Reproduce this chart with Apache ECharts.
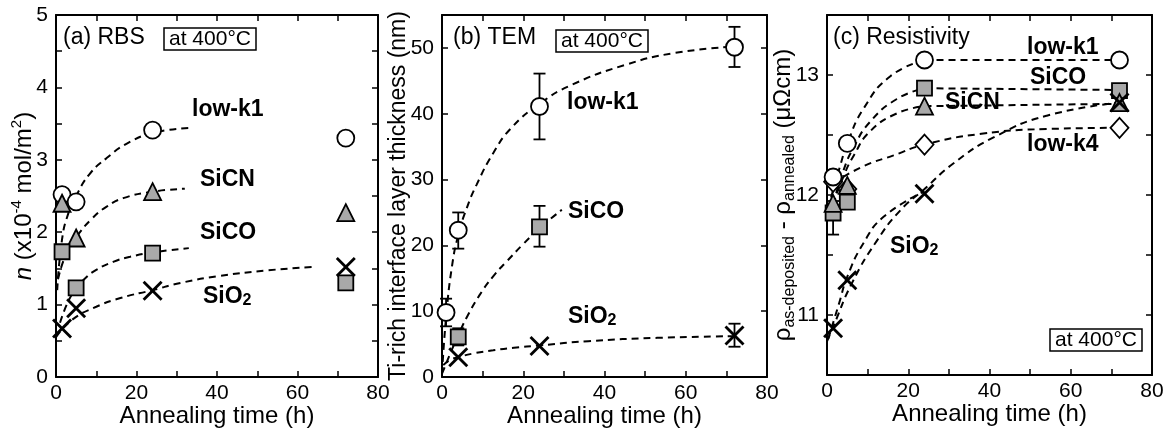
<!DOCTYPE html>
<html>
<head>
<meta charset="utf-8">
<script src="https://cdn.jsdelivr.net/npm/echarts@6/dist/echarts.min.js"></script>
<style>
  html, body { margin: 0; padding: 0; background: #fff; }
  #chart { width: 1167px; height: 434px; }
</style>
</head>
<body>
<div id="chart"></div>
<script>
// ---- (a) RBS ----
const timesA = [1.5, 5, 24, 72];
const rbsLowk1 = [2.52, 2.42, 3.41, 3.30];
const rbsSiCN = [2.40, 1.92, 2.56, 2.27];
const rbsSiCO = [1.73, 1.23, 1.71, 1.30];
const rbsSiO2 = [0.67, 0.95, 1.19, 1.52];
// fitted dashed curves
const fitA_lowk1 = [[0.3, 1.2], [1.5, 1.9], [3, 2.25], [5, 2.5], [8.3, 2.8], [12.5, 3.02], [17.5, 3.22], [24, 3.37], [33, 3.44]];
const fitA_SiCN = [[0.5, 1.35], [2.5, 1.7], [5, 1.93], [9, 2.19], [12.5, 2.35], [16.7, 2.47], [24, 2.56], [32, 2.6]];
const fitA_SiCO = [[1, 0.75], [3, 1.04], [5, 1.22], [7, 1.35], [10, 1.48], [14.2, 1.59], [18.4, 1.66], [24, 1.72], [33, 1.78]];
const fitA_SiO2 = [[0, 0.55], [4, 0.79], [10, 0.97], [16, 1.09], [24, 1.2], [31, 1.3], [40, 1.39], [52, 1.47], [64, 1.52]];

// ---- (b) TEM ----
const timesB = [1, 4, 24, 72];
const temLowk1 = [9.8, 22.3, 41.1, 50.1];
const temLowk1Lo = [7.7, 19.5, 36.1, 47.1];
const temLowk1Hi = [11.9, 25.0, 46.1, 53.2];
const timesB_SiCO = [4, 24];
const temSiCO = [6.1, 22.8];
const temSiCOLo = [4.8, 19.8];
const temSiCOHi = [7.4, 26.0];
const timesB_SiO2 = [4, 24, 72];
const temSiO2 = [3.0, 4.7, 6.3];
const temSiO2Lo = [3.0, 4.7, 4.6];
const temSiO2Hi = [3.0, 4.7, 8.1];
const fitB_lowk1 = [[0, 0.5], [1, 9], [2.5, 17], [4.1, 21.8], [6, 25.5], [8.5, 29.2], [12.6, 34], [17, 37.8], [24, 41.5], [32, 44.4], [45, 47.4], [57, 49.2], [72, 50.2]];
const fitB_SiCO = [[0, 0.5], [2, 3.5], [4.1, 6.5], [6.3, 9.3], [9.2, 12.4], [12.6, 15.3], [16, 17.6], [20, 20.2], [24, 22.6], [29.5, 25.4]];
const fitB_SiO2 = [[0.3, 1.8], [2, 2.6], [4, 3.0], [7.5, 3.55], [12.6, 4.05], [17.7, 4.45], [24, 4.8], [36, 5.45], [53, 5.95], [72, 6.2]];

// ---- (c) Resistivity ----
const timesC = [1.5, 5, 24, 72];
const resLowk1 = [12.15, 12.43, 13.125, 13.125];
const resSiCO = [11.85, 11.94, 12.89, 12.87];
const resSiCN = [11.93, 12.08, 12.74, 12.77];
const resLowk4 = [12.11, 12.05, 12.42, 12.56];
const resSiO2 = [10.89, 11.29, 12.01, 12.77];
const resErrX = [1.5];
const resErrLo = [11.67];
const resErrHi = [11.95];
const fitC_lowk1 = [[1, 11.98], [3.3, 12.25], [5, 12.43], [9, 12.72], [15.6, 12.99], [24, 13.125]];
const flatC_lowk1 = [[24, 13.125], [72, 13.125]];
const fitC_SiCO = [[1.5, 11.92], [4, 12.2], [6.6, 12.4], [10.6, 12.61], [17.2, 12.8], [24, 12.89]];
const flatC_SiCO = [[24, 12.89], [72, 12.875]];
const fitC_SiCN = [[1.5, 11.92], [4, 12.15], [6.6, 12.33], [10.6, 12.53], [17.2, 12.68], [24, 12.74]];
const flatC_SiCN = [[24, 12.74], [72, 12.76]];
const fitC_lowk4 = [[1.5, 12.1], [9, 12.24], [16.4, 12.33], [24, 12.42], [38, 12.51], [54, 12.55], [72, 12.56]];
const fitC_SiO2 = [[0, 10.78], [1.5, 10.9], [6.2, 11.27], [12.3, 11.62], [18, 11.87], [24, 12.05], [31, 12.26], [41, 12.48], [54, 12.66], [72, 12.77]];
const fitC_SiO2b = [[0.3, 10.8], [3, 11.1], [5, 11.32], [9, 11.6], [14, 11.82], [24, 12.03]];

const FONT = 'Liberation Sans, Arial, sans-serif';
const GRAY = '#a9a9a9';
const XMARK = 'path://M0,2L2,0L10,8L18,0L20,2L12,10L20,18L18,20L10,12L2,20L0,18L8,10Z';

function zip(xs, ys) { return xs.map((x, i) => [x, ys[i]]); }
function zip3(xs, lo, hi) { return xs.map((x, i) => [x, lo[i], hi[i]]); }

let chart = echarts.init(document.getElementById('chart'));

const grids = [
  { left: 56, top: 15, width: 322, height: 362 },
  { left: 442, top: 15, width: 325, height: 362 },
  { left: 827, top: 15, width: 325, height: 360 }
];

const tick = { show: true, inside: true, length: 6, lineStyle: { color: '#000', width: 1.5 } };
const line = { show: true, onZero: false, lineStyle: { color: '#000', width: 2 } };
const labelStyle = { color: '#000', fontSize: 21, fontFamily: FONT };

let xAxes = [], yAxes = [];
grids.forEach((g, i) => {
  xAxes.push({
    gridIndex: i, type: 'value', min: 0, max: 80, interval: 10, position: 'bottom',
    axisLine: line, axisTick: tick, splitLine: { show: false },
    axisLabel: Object.assign({ margin: 6, formatter: v => (v % 20 === 0 ? v : '') }, labelStyle),
    name: 'Annealing time (h)', nameLocation: 'middle', nameGap: 27, nameMoveOverlap: false,
    nameTextStyle: { color: '#000', fontSize: 24, fontFamily: FONT }
  });
  xAxes.push({
    gridIndex: i, type: 'value', min: 0, max: 80, interval: 10, position: 'top',
    axisLine: line, axisTick: tick, axisLabel: { show: false }, splitLine: { show: false }
  });
});

const yDefs = [
  { min: 0, max: 5, interval: 0.5, fmt: v => (Number.isInteger(v) ? v : ''),
    name: '{it|n} (x10{sup|-4} mol/m{sup|2})', gap: 17, size: 24 },
  { min: 0, max: 55, interval: 10, fmt: v => (v % 10 === 0 ? v : ''),
    name: 'Ti-rich interface layer thickness (nm)', gap: 28, size: 23 },
  { min: 10.5, max: 13.5, interval: 0.5, fmt: v => (Number.isInteger(v) ? v : ''),
    name: 'ρ{sub|as-deposited} - ρ{sub|annealed} (μΩcm)', gap: 29, size: 24 }
];
yDefs.forEach((d, i) => {
  yAxes.push({
    gridIndex: i, type: 'value', min: d.min, max: d.max, interval: d.interval, position: 'left',
    axisLine: line, axisTick: tick, splitLine: { show: false },
    axisLabel: Object.assign({ margin: 8, formatter: d.fmt }, labelStyle),
    name: d.name, nameLocation: 'middle', nameGap: d.gap, nameRotate: 90,
    nameMoveOverlap: false,
    nameTextStyle: {
      color: '#000', fontSize: d.size, fontFamily: FONT, lineHeight: 30,
      rich: {
        it: { fontStyle: 'italic', fontSize: d.size, fontFamily: FONT, lineHeight: 30 },
        sup: { fontSize: 15, fontFamily: FONT, verticalAlign: 'top', lineHeight: 14 },
        sub: { fontSize: 16, fontFamily: FONT, verticalAlign: 'bottom', lineHeight: 15 }
      }
    }
  });
  yAxes.push({
    gridIndex: i, type: 'value', min: d.min, max: d.max, interval: d.interval, position: 'right',
    axisLine: line, axisTick: tick, axisLabel: { show: false }, splitLine: { show: false }
  });
});

function fit(panel, data, straight) {
  return {
    type: 'line', xAxisIndex: panel * 2, yAxisIndex: panel * 2, data: data,
    smooth: straight ? false : 0.5, showSymbol: false, silent: true,
    lineStyle: { color: '#000', width: 2, type: [7, 5] }, z: 2
  };
}
function pts(panel, data, symbol, fill, size) {
  return {
    type: 'scatter', xAxisIndex: panel * 2, yAxisIndex: panel * 2, data: data,
    symbol: symbol, symbolSize: size,
    itemStyle: symbol === XMARK ? { color: '#000', opacity: 1 }
      : { color: fill, borderColor: '#000', borderWidth: 1.8, opacity: 1 },
    z: 5
  };
}
function errbars(panel, data) {
  return {
    type: 'custom', xAxisIndex: panel * 2, yAxisIndex: panel * 2, data: data, z: 4,
    renderItem: (params, api) => {
      const x = api.value(0);
      const p1 = api.coord([x, api.value(1)]);
      const p2 = api.coord([x, api.value(2)]);
      const st = { stroke: '#000', lineWidth: 1.8 };
      const c = 6;
      if (Math.abs(p1[1] - p2[1]) < 1) return { type: 'group', children: [] };
      return {
        type: 'group', children: [
          { type: 'line', shape: { x1: p1[0], y1: p1[1], x2: p2[0], y2: p2[1] }, style: st },
          { type: 'line', shape: { x1: p1[0] - c, y1: p1[1], x2: p1[0] + c, y2: p1[1] }, style: st },
          { type: 'line', shape: { x1: p2[0] - c, y1: p2[1], x2: p2[0] + c, y2: p2[1] }, style: st }
        ]
      };
    }
  };
}

const series = [
  // (a)
  fit(0, fitA_lowk1), fit(0, fitA_SiCN), fit(0, fitA_SiCO), fit(0, fitA_SiO2),
  pts(0, zip(timesA, rbsLowk1), 'circle', '#fff', 17),
  pts(0, zip(timesA, rbsSiCN), 'triangle', GRAY, 17),
  pts(0, zip(timesA, rbsSiCO), 'rect', GRAY, 15),
  pts(0, zip(timesA, rbsSiO2), XMARK, '#000', 20),
  // (b)
  fit(1, fitB_lowk1), fit(1, fitB_SiCO), fit(1, fitB_SiO2),
  errbars(1, zip3(timesB, temLowk1Lo, temLowk1Hi)),
  errbars(1, zip3(timesB_SiCO, temSiCOLo, temSiCOHi)),
  errbars(1, zip3(timesB_SiO2, temSiO2Lo, temSiO2Hi)),
  pts(1, zip(timesB, temLowk1), 'circle', '#fff', 17),
  pts(1, zip(timesB_SiCO, temSiCO), 'rect', GRAY, 15),
  pts(1, zip(timesB_SiO2, temSiO2), XMARK, '#000', 20),
  // (c)
  fit(2, fitC_lowk1), fit(2, flatC_lowk1, true),
  fit(2, fitC_SiCO), fit(2, flatC_SiCO, true),
  fit(2, fitC_SiCN), fit(2, flatC_SiCN, true),
  fit(2, fitC_lowk4), fit(2, fitC_SiO2), fit(2, fitC_SiO2b),
  errbars(2, zip3(resErrX, resErrLo, resErrHi)),
  pts(2, zip(timesC, resLowk4), 'diamond', '#fff', [18, 20]),
  pts(2, zip(timesC, resLowk1), 'circle', '#fff', 17),
  pts(2, zip(timesC, resSiCO), 'rect', GRAY, 15),
  pts(2, zip(timesC, resSiCN), 'triangle', GRAY, 17),
  pts(2, zip(timesC, resSiO2), XMARK, '#000', 20)
];

function txt(text, left, top, bold) {
  return {
    text: text, left: left, top: top, padding: 0,
    textStyle: {
      color: '#000', fontFamily: FONT, fontSize: 23,
      fontWeight: bold ? 'bold' : 'normal', lineHeight: 24,
      rich: { sub: { fontSize: 16, fontWeight: bold ? 'bold' : 'normal', fontFamily: FONT, verticalAlign: 'bottom', lineHeight: 15 } }
    }
  };
}
function boxed(left, top) {
  return {
    text: 'at 400°C', left: left, top: top, padding: [1, 5, 1, 5],
    borderColor: '#000', borderWidth: 1.5,
    textStyle: { color: '#000', fontFamily: FONT, fontSize: 21, fontWeight: 'normal', lineHeight: 20 }
  };
}

const titles = [
  txt('(a) RBS', 63, 26), boxed(164, 28),
  txt('low-k1', 192, 98, true), txt('SiCN', 200, 168, true), txt('SiCO', 200, 221, true),
  txt('SiO{sub|2}', 203, 285, true),
  txt('(b) TEM', 453, 26), boxed(556, 30),
  txt('low-k1', 567, 91, true), txt('SiCO', 568, 200, true), txt('SiO{sub|2}', 568, 305, true),
  txt('(c) Resistivity', 833, 26),
  txt('low-k1', 1027, 36, true), txt('SiCO', 1030, 66, true), txt('SiCN', 945, 91, true),
  txt('low-k4', 1027, 133, true), txt('SiO{sub|2}', 890, 235, true),
  boxed(1050, 329)
];

let option = {
  animation: false,
  backgroundColor: '#fff',
  title: titles,
  grid: grids,
  xAxis: xAxes,
  yAxis: yAxes,
  series: series
};
chart.setOption(option);
</script>
</body>
</html>
